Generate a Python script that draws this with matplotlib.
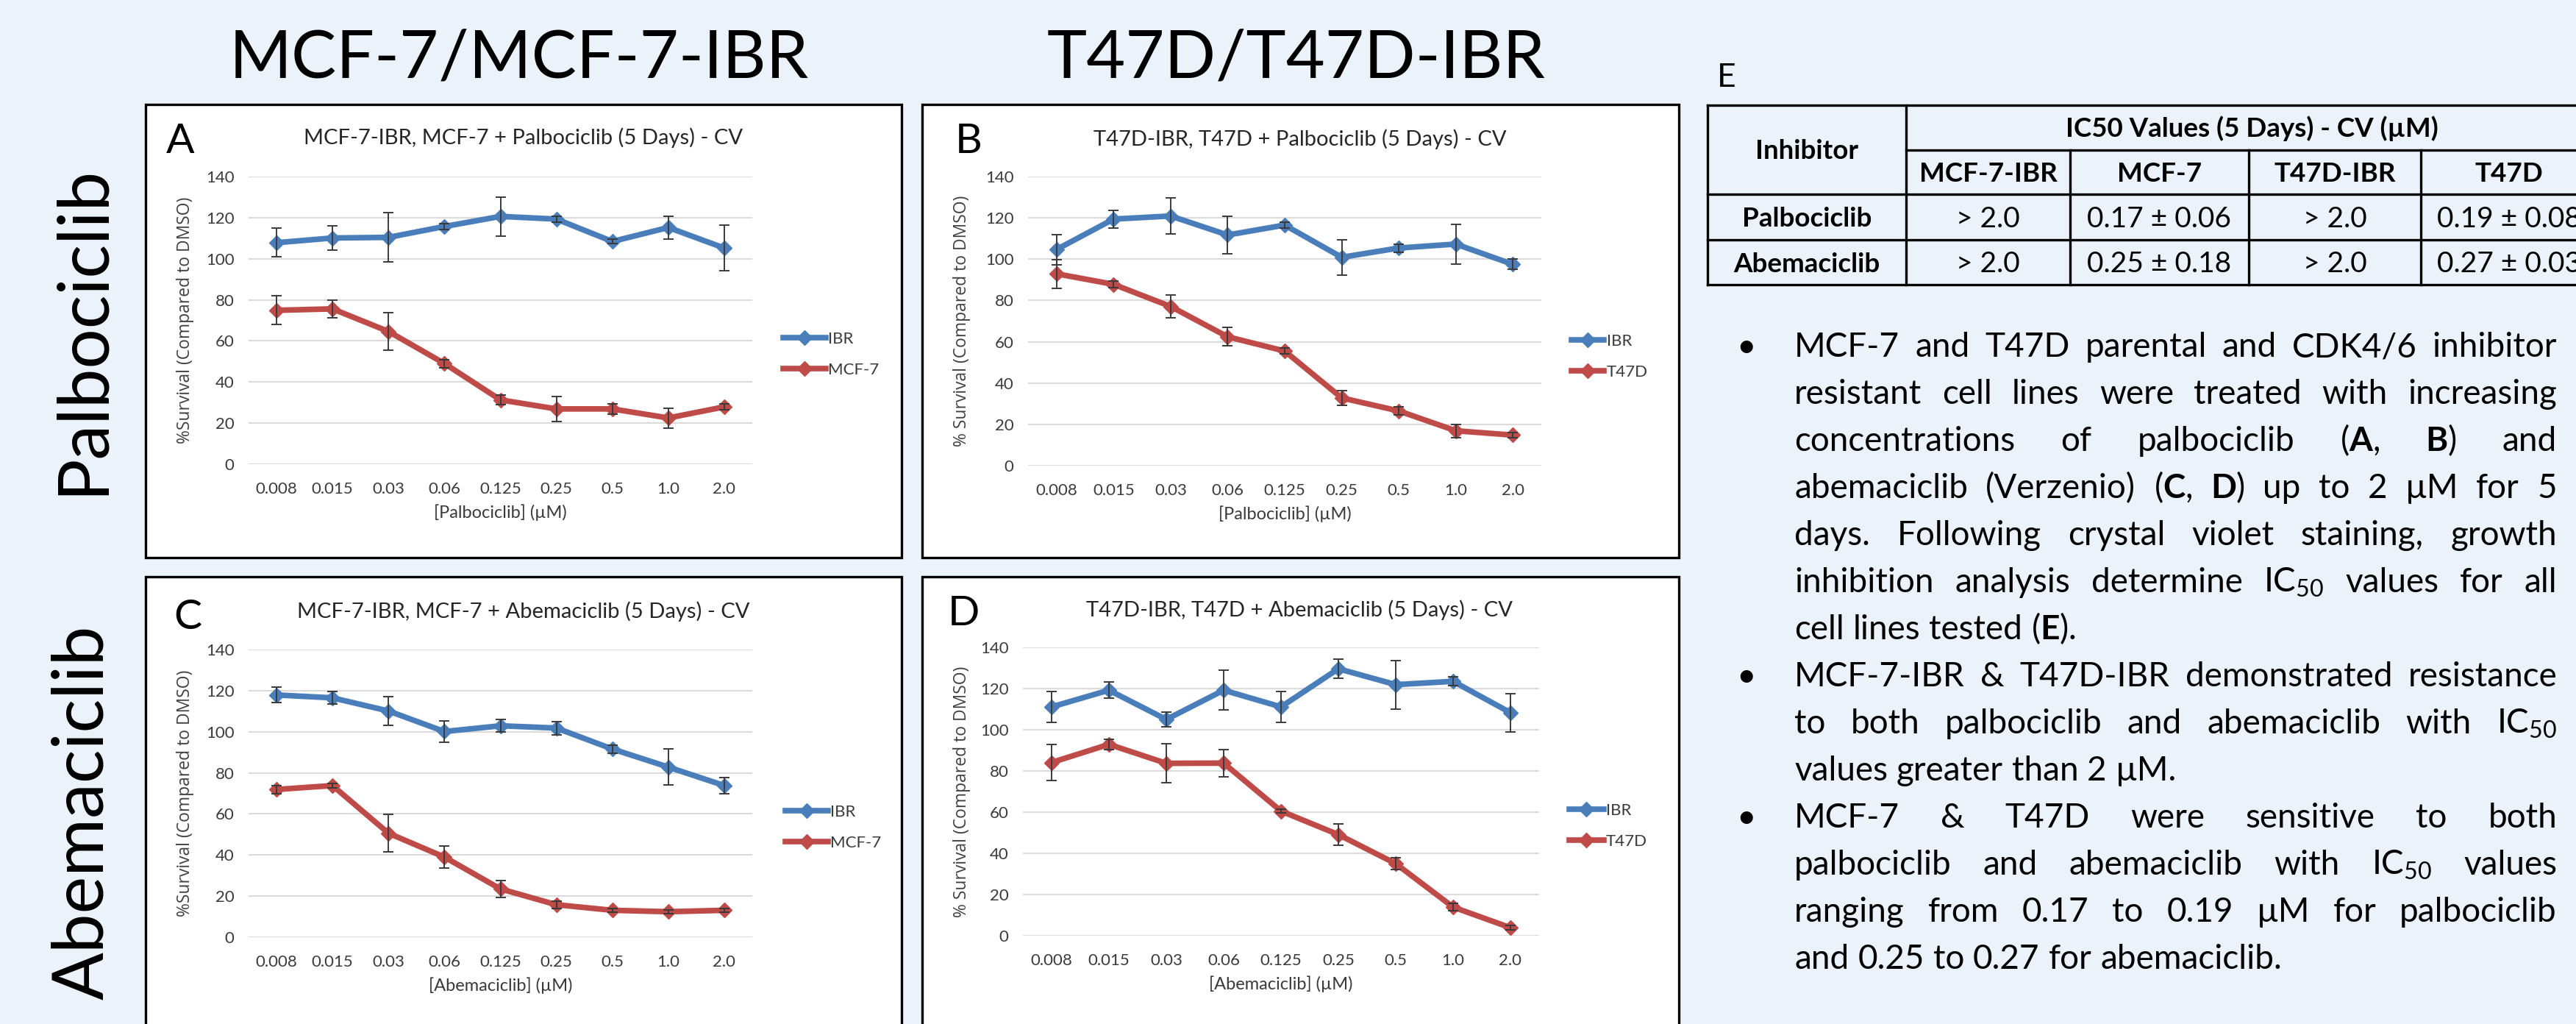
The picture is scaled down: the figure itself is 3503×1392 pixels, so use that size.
import matplotlib
matplotlib.use('Agg')
import matplotlib.pyplot as plt
from matplotlib.patches import Rectangle
from matplotlib.lines import Line2D

plt.rcParams['font.family'] = ['Lato', 'DejaVu Sans']
plt.rcParams['mathtext.fontset'] = 'custom'
plt.rcParams['mathtext.rm'] = 'Lato'
plt.rcParams['mathtext.it'] = 'Lato:italic'
plt.rcParams['mathtext.bf'] = 'Lato:bold'

doses = ['0.008', '0.015', '0.03', '0.06', '0.125', '0.25', '0.5', '1.0', '2.0']

palbo_mcf7_ibr = [107.8, 110.1, 110.4, 115.7, 120.6, 119.3, 108.4, 115.2, 105.2]
palbo_mcf7_ibr_err = [7.0, 6.0, 12.0, 1.5, 9.5, 1.5, 1.0, 5.5, 11.0]
palbo_mcf7 = [74.9, 75.6, 64.6, 49.0, 31.3, 26.9, 26.9, 22.5, 27.9]
palbo_mcf7_err = [7.0, 4.3, 9.0, 2.0, 2.2, 6.2, 2.4, 4.8, 1.5]

palbo_t47d_ibr = [104.7, 119.4, 120.9, 111.7, 116.5, 100.9, 105.4, 107.3, 97.5]
palbo_t47d_ibr_err = [7.3, 4.3, 8.8, 9.1, 1.5, 8.5, 2.0, 9.7, 2.5]
palbo_t47d = [92.9, 87.8, 77.1, 62.4, 55.5, 32.8, 26.5, 16.9, 14.8]
palbo_t47d_err = [7.0, 1.5, 5.4, 4.4, 1.5, 3.7, 2.0, 3.2, 1.2]

abema_mcf7_ibr = [117.9, 116.5, 110.1, 100.1, 102.9, 101.8, 91.6, 82.8, 73.8]
abema_mcf7_ibr_err = [3.8, 3.0, 7.0, 5.1, 3.0, 3.2, 2.0, 8.8, 4.0]
abema_mcf7 = [71.9, 73.8, 50.6, 39.0, 23.5, 15.8, 13.1, 12.4, 13.1]
abema_mcf7_err = [2.0, 1.0, 9.1, 5.4, 4.0, 1.8, 1.0, 0.8, 1.0]

abema_t47d_ibr = [111.1, 119.2, 105.0, 119.2, 111.1, 129.6, 121.9, 123.5, 108.3]
abema_t47d_ibr_err = [7.5, 3.9, 3.6, 9.7, 7.5, 4.6, 11.8, 2.2, 9.3]
abema_t47d = [84.1, 92.9, 83.7, 83.8, 60.5, 49.1, 35.0, 13.9, 3.9]
abema_t47d_err = [8.6, 2.5, 9.5, 6.7, 1.0, 5.3, 2.7, 1.9, 1.0]

table_inhibitors = ['Palbociclib', 'Abemaciclib']
table_cell_lines = ['MCF-7-IBR', 'MCF-7', 'T47D-IBR', 'T47D']
table_values = [['> 2.0', '0.17 ± 0.06', '> 2.0', '0.19 ± 0.08'],
                ['> 2.0', '0.25 ± 0.18', '> 2.0', '0.27 ± 0.03']]

# (starts new bullet, justified, text)
bullet_lines = [
    (True, True, 'MCF-7 and T47D parental and CDK4/6 inhibitor'),
    (False, True, 'resistant cell lines were treated with increasing'),
    (False, True, r'concentrations of palbociclib ($\mathbf{A}$, $\mathbf{B}$) and'),
    (False, True, r'abemaciclib (Verzenio) ($\mathbf{C}$, $\mathbf{D}$) up to 2 µM for 5'),
    (False, True, 'days. Following crystal violet staining, growth'),
    (False, True, r'inhibition analysis determine IC$_{50}$ values for all'),
    (False, False, r'cell lines tested ($\mathbf{E}$).'),
    (True, True, 'MCF-7-IBR & T47D-IBR demonstrated resistance'),
    (False, True, r'to both palbociclib and abemaciclib with IC$_{50}$'),
    (False, False, 'values greater than 2 µM.'),
    (True, True, 'MCF-7 & T47D were sensitive to both'),
    (False, True, r'palbociclib and abemaciclib with IC$_{50}$ values'),
    (False, True, 'ranging from 0.17 to 0.19 µM for palbociclib'),
    (False, False, 'and 0.25 to 0.27 for abemaciclib.'),
]

charts = {
    'A': ('MCF-7-IBR, MCF-7 + Palbociclib (5 Days) - CV', '[Palbociclib] (µM)',
          '%Survival (Compared to DMSO)', 'MCF-7',
          palbo_mcf7_ibr, palbo_mcf7_ibr_err, palbo_mcf7, palbo_mcf7_err),
    'B': ('T47D-IBR, T47D + Palbociclib (5 Days) - CV', '[Palbociclib] (µM)',
          '% Survival (Compared to DMSO)', 'T47D',
          palbo_t47d_ibr, palbo_t47d_ibr_err, palbo_t47d, palbo_t47d_err),
    'C': ('MCF-7-IBR, MCF-7 + Abemaciclib (5 Days) - CV', '[Abemaciclib] (µM)',
          '%Survival (Compared to DMSO)', 'MCF-7',
          abema_mcf7_ibr, abema_mcf7_ibr_err, abema_mcf7, abema_mcf7_err),
    'D': ('T47D-IBR, T47D + Abemaciclib (5 Days) - CV', '[Abemaciclib] (µM)',
          '% Survival (Compared to DMSO)', 'T47D',
          abema_t47d_ibr, abema_t47d_ibr_err, abema_t47d, abema_t47d_err),
}

# ---- layout (pixel positions on the 3503x1392 canvas) ----
W, H = 3503, 1392
BLUE = '#4A7EBB'
RED = '#BE4B48'

def fx(x):
    return x / W

def fy(y):
    return 1 - y / H

panels = [
    dict(key='A', box=(198, 142, 1226, 758), plot=(338, 240, 1023, 631),
         title=(712, 196), letter=(226, 208), leg=(1065, 482), hl=2.6),
    dict(key='B', box=(1254, 142, 2283, 758), plot=(1398, 240, 2096, 633),
         title=(1768, 198), letter=(1299, 208), leg=(2137, 485), hl=2.0),
    dict(key='C', box=(198, 784, 1226, 1400), plot=(338, 883, 1023, 1274),
         title=(712, 840), letter=(236, 855), leg=(1068, 1125), hl=2.6),
    dict(key='D', box=(1254, 784, 2283, 1400), plot=(1391, 880, 2093, 1272),
         title=(1767, 838), letter=(1289, 850), leg=(2134, 1123), hl=2.1),
]

fig = plt.figure(figsize=(W / 100, H / 100), dpi=100)
fig.patch.set_facecolor('#EBF2FA')

# column / row headings
fig.text(fx(706), fy(105), 'MCF-7/MCF-7-IBR', fontsize=66, ha='center', va='baseline')
fig.text(fx(1763), fy(105), 'T47D/T47D-IBR', fontsize=66, ha='center', va='baseline')
fig.text(fx(140), fy(448), 'Palbociclib', fontsize=69, rotation=90,
         rotation_mode='anchor', ha='center', va='baseline')
fig.text(fx(140), fy(1104), 'Abemaciclib', fontsize=69, rotation=90,
         rotation_mode='anchor', ha='center', va='baseline')

for p in panels:
    title, xlab, ylab, parent, ibr, ibr_err, par, par_err = charts[p['key']]
    bx0, by0, bx1, by1 = p['box']
    fig.add_artist(Rectangle((fx(bx0), fy(by1)), (bx1 - bx0) / W, (by1 - by0) / H,
                             transform=fig.transFigure, facecolor='white',
                             edgecolor='black', lw=2.4, zorder=0))
    px0, py0, px1, py1 = p['plot']
    ax = fig.add_axes([fx(px0), fy(py1), (px1 - px0) / W, (py1 - py0) / H])
    ax.set_facecolor('white')
    x = list(range(len(doses)))
    for vals, errs, col, lab in [(ibr, ibr_err, BLUE, 'IBR'), (par, par_err, RED, parent)]:
        ax.plot(x, vals, color=col, lw=5.5, marker='D', ms=10, label=lab, zorder=3)
        ax.errorbar(x, vals, yerr=errs, fmt='none', ecolor='#3A3A3A', elinewidth=1.4,
                    capsize=5, capthick=1.4, zorder=4)
    ax.set_xlim(-0.5, len(doses) - 0.5)
    ax.set_ylim(0, 140)
    ax.set_yticks(range(0, 141, 20))
    ax.set_xticks(x)
    ax.set_xticklabels(doses)
    ax.tick_params(length=0, labelsize=16, labelcolor='#3A3A3A')
    ax.tick_params(axis='x', pad=17)
    ax.tick_params(axis='y', pad=14)
    ax.grid(axis='y', color='#D9D9D9', lw=1.4)
    ax.set_axisbelow(True)
    for s in ax.spines.values():
        s.set_visible(False)
    ax.set_xlabel(xlab, fontsize=17, color='#3A3A3A')
    ax.xaxis.label.set_va('center')
    ax.xaxis.set_label_coords(0.5, -66 / (py1 - py0))
    ax.set_ylabel(ylab, fontsize=16.5, color='#404040', family=['Open Sans', 'DejaVu Sans'])
    ax.yaxis.label.set_va('center')
    ax.yaxis.set_label_coords(-(px0 - (bx0 + 54)) / (px1 - px0), 0.5)
    lx, ly = p['leg']
    ax.legend(loc='center left',
              bbox_to_anchor=((lx - px0) / (px1 - px0), 1 - (ly - py0) / (py1 - py0)),
              frameon=False, fontsize=16, handlelength=p['hl'], handletextpad=0.15,
              labelspacing=1.0, borderpad=0, borderaxespad=0, labelcolor='#3A3A3A')
    fig.text(fx(p['title'][0]), fy(p['title'][1]), title, fontsize=21,
             ha='center', va='baseline', color='#262626')
    fig.text(fx(p['letter'][0]), fy(p['letter'][1]), p['key'], fontsize=41,
             ha='left', va='baseline')

# ---- table E ----
fig.text(fx(2335), fy(118), 'E', fontsize=32, ha='left', va='baseline')
col_edges = [2322, 2592, 2815, 3058, 3292, 3532]
row_edges = [143, 204, 264, 326, 387]
lw_t = 2.4
HEAD_FS = 26.5

def hline(y, x0, x1):
    fig.add_artist(Line2D([fx(x0), fx(x1)], [fy(y), fy(y)], color='black', lw=lw_t))

def vline(x, y0, y1):
    fig.add_artist(Line2D([fx(x), fx(x)], [fy(y0), fy(y1)], color='black', lw=lw_t))

hline(row_edges[0], col_edges[0], col_edges[-1])
hline(row_edges[1], col_edges[1], col_edges[-1])
for y in row_edges[2:]:
    hline(y, col_edges[0], col_edges[-1])
vline(col_edges[0], row_edges[0], row_edges[-1])
vline(col_edges[1], row_edges[0], row_edges[-1])
for xe in col_edges[2:-1]:
    vline(xe, row_edges[1], row_edges[-1])

fig.text(fx((col_edges[0] + col_edges[1]) / 2), fy((row_edges[0] + row_edges[2]) / 2 + 13),
         'Inhibitor', fontsize=HEAD_FS, fontweight='bold', ha='center', va='baseline')
fig.text(fx((col_edges[1] + col_edges[-1]) / 2), fy((row_edges[0] + row_edges[1]) / 2 + 13),
         'IC50 Values (5 Days) - CV (µM)', fontsize=HEAD_FS, fontweight='bold',
         ha='center', va='baseline')
for j, name in enumerate(table_cell_lines):
    cx = (col_edges[j + 1] + col_edges[j + 2]) / 2
    fig.text(fx(cx), fy((row_edges[1] + row_edges[2]) / 2 + 13), name, fontsize=HEAD_FS,
             fontweight='bold', ha='center', va='baseline')
for i, inh in enumerate(table_inhibitors):
    cy = (row_edges[i + 2] + row_edges[i + 3]) / 2
    fig.text(fx((col_edges[0] + col_edges[1]) / 2), fy(cy + 13), inh, fontsize=HEAD_FS,
             fontweight='bold', ha='center', va='baseline')
    for j, v in enumerate(table_values[i]):
        cx = (col_edges[j + 1] + col_edges[j + 2]) / 2
        fig.text(fx(cx), fy(cy + 14), v, fontsize=28, ha='center', va='baseline')

# ---- justified bullet text ----
renderer = fig.canvas.get_renderer()
TEXT_X0, TEXT_X1, BULLET_X = 2440, 3477, 2374
BASE0, STEP, FS = 485, 64, 33

def place_line(text, y, justify):
    words = text.split(' ')
    items = [fig.text(0, fy(y), w, fontsize=FS, ha='left', va='baseline') for w in words]
    widths = [t.get_window_extent(renderer).width for t in items]
    if justify and len(words) > 1:
        gap = (TEXT_X1 - TEXT_X0 - sum(widths)) / (len(words) - 1)
    else:
        gap = 0.26 * FS * 100 / 72
    xpos = TEXT_X0
    for t, w in zip(items, widths):
        t.set_x(fx(xpos))
        xpos += w + gap

for k, (new_bullet, justify, text) in enumerate(bullet_lines):
    y = BASE0 + k * STEP
    if new_bullet:
        fig.text(fx(BULLET_X), fy(y), '•', fontsize=FS, ha='center', va='baseline')
    place_line(text, y, justify)

fig.savefig('out.png', dpi=100, facecolor=fig.get_facecolor())
